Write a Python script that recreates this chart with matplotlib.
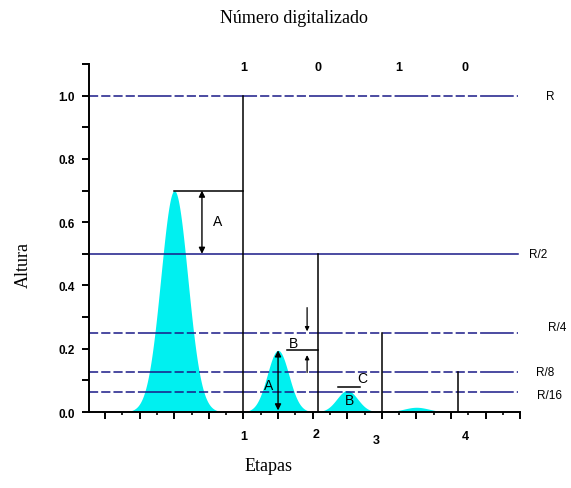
import numpy as np
import matplotlib
matplotlib.use("Agg")
import matplotlib.pyplot as plt

# Peaks (stage outputs): centre, height, width
peak_centers = [3.0, 6.0, 8.0, 10.0]
peak_heights = [0.70, 0.195, 0.068, 0.015]
peak_sigmas = [0.39, 0.31, 0.30, 0.36]

# Reference levels
levels = [1.0, 0.5, 0.25, 0.125, 0.0625]
level_labels = ["R", "R/2", "R/4", "R/8", "R/16"]
level_solid = [False, True, False, False, False]

# Stage boundary lines
stage_x = [5.0, 7.15, 9.0, 11.2]
stage_top = [1.0, 0.5, 0.25, 0.125]
stage_labels = ["1", "2", "3", "4"]
digits = ["1", "0", "1", "0"]

navy = "#1a1a88"
cyan = "#00f0f0"
sans = ["Liberation Sans", "DejaVu Sans"]
serif = ["Liberation Serif", "DejaVu Serif"]

fig = plt.figure(figsize=(5.71, 4.89), dpi=100)
ax = fig.add_axes([0.156, 0.1554, 0.755, 0.7116])
ax.set_xlim(0.537, 13.0)
ax.set_ylim(0, 1.1)

# cyan peaks
for c, h, s in zip(peak_centers, peak_heights, peak_sigmas):
    xs = np.linspace(c - 3.2 * s, c + 3.2 * s, 200)
    ys = h * np.exp(-0.5 * ((xs - c) / s) ** 2)
    ax.fill_between(xs, 0, ys, color=cyan, lw=0, zorder=1)

# horizontal reference lines
for lv, lab, solid in zip(levels, level_labels, level_solid):
    if solid:
        ax.plot([0.537, 12.95], [lv, lv], color=navy, lw=1.1, zorder=2)
    else:
        ax.plot([0.537, 12.95], [lv, lv], color=navy, lw=1.1, zorder=2,
                dashes=(6, 2, 6, 2, 6, 2, 6, 2, 22, 2))

label_pos = {"R": (13.87, 1.0), "R/2": (13.52, 0.5), "R/4": (14.07, 0.27),
             "R/8": (13.72, 0.125), "R/16": (13.84, 0.055)}
for lab in level_labels:
    x, y = label_pos[lab]
    ax.text(x, y, lab, fontsize=8.5, family=sans, ha="center", va="center",
            clip_on=False)

# vertical stage lines
for x, top in zip(stage_x, stage_top):
    ax.plot([x, x], [0, top], color="black", lw=1.1, zorder=3)

label_px = [(5.02, -0.075), (7.1, -0.07), (8.85, -0.09), (11.4, -0.075)]
for (x, y), lab in zip(label_px, stage_labels):
    ax.text(x, y, lab, fontsize=9, family=sans, fontweight="bold", ha="center",
            va="center", clip_on=False)

digit_x = [5.0, 7.15, 9.5, 11.4]
for x, d in zip(digit_x, digits):
    ax.text(x, 1.09, d, fontsize=9, family=sans, fontweight="bold", ha="center",
            va="center", clip_on=False)

# annotation for first peak
ax.plot([3.0, 5.0], [0.7, 0.7], color="black", lw=1.1, zorder=3)
ax.annotate("", xy=(3.8, 0.7), xytext=(3.8, 0.5),
            arrowprops=dict(arrowstyle="<|-|>", color="black", lw=1,
                            shrinkA=0, shrinkB=0, mutation_scale=9))
ax.text(4.25, 0.605, "A", fontsize=10, family=sans, ha="center", va="center")

# annotation for second peak
ax.annotate("", xy=(6.0, 0.195), xytext=(6.0, 0.005),
            arrowprops=dict(arrowstyle="<|-|>", color="black", lw=1,
                            shrinkA=0, shrinkB=0, mutation_scale=9))
ax.text(5.72, 0.085, "A", fontsize=10, family=sans, ha="center", va="center")
ax.plot([6.25, 7.15], [0.195, 0.195], color="black", lw=1.1, zorder=3)
ax.text(6.45, 0.218, "B", fontsize=10, family=sans, ha="center", va="center")
ax.annotate("", xy=(6.84, 0.255), xytext=(6.84, 0.33),
            arrowprops=dict(arrowstyle="-|>", color="black", lw=0.9,
                            shrinkA=0, shrinkB=0, mutation_scale=6))
ax.annotate("", xy=(6.84, 0.18), xytext=(6.84, 0.125),
            arrowprops=dict(arrowstyle="-|>", color="black", lw=0.9,
                            shrinkA=0, shrinkB=0, mutation_scale=6))

# annotation for third peak
ax.plot([7.72, 8.38], [0.078, 0.078], color="black", lw=1.1, zorder=3)
ax.text(8.42, 0.108, "C", fontsize=10, family=sans, ha="center", va="center")
ax.text(8.07, 0.038, "B", fontsize=10, family=sans, ha="center", va="center")

# axes styling
for side in ["top", "right"]:
    ax.spines[side].set_visible(False)
ax.spines["left"].set_linewidth(1.4)
ax.spines["bottom"].set_linewidth(1.4)

ax.set_yticks([0.0, 0.2, 0.4, 0.6, 0.8, 1.0])
ax.set_yticklabels(["0.0", "0.2", "0.4", "0.6", "0.8", "1.0"], family=sans,
                   fontsize=8.5, fontweight="bold")
ax.set_yticks([0.1, 0.3, 0.5, 0.7, 0.9, 1.1], minor=True)
ax.set_xticks(np.arange(1, 14))
ax.set_xticklabels([])
ax.set_xticks(np.arange(1.5, 13, 1.0), minor=True)
ax.tick_params(axis="both", which="major", length=5, width=1.4, direction="out")
ax.tick_params(axis="y", which="major", pad=5)
ax.tick_params(axis="y", which="minor", length=5, width=1.4, direction="out")
ax.tick_params(axis="x", which="minor", length=2.5, width=1.2, direction="out")

fig.text(0.515, 0.963, "Número digitalizado", family=serif, fontsize=13,
         ha="center", va="center")
fig.text(0.04, 0.458, "Altura", family=serif, fontsize=13, rotation=90,
         ha="center", va="center")
fig.text(0.47, 0.045, "Etapas", family=serif, fontsize=13, ha="center",
         va="center")

fig.savefig("out.png", dpi=100)
